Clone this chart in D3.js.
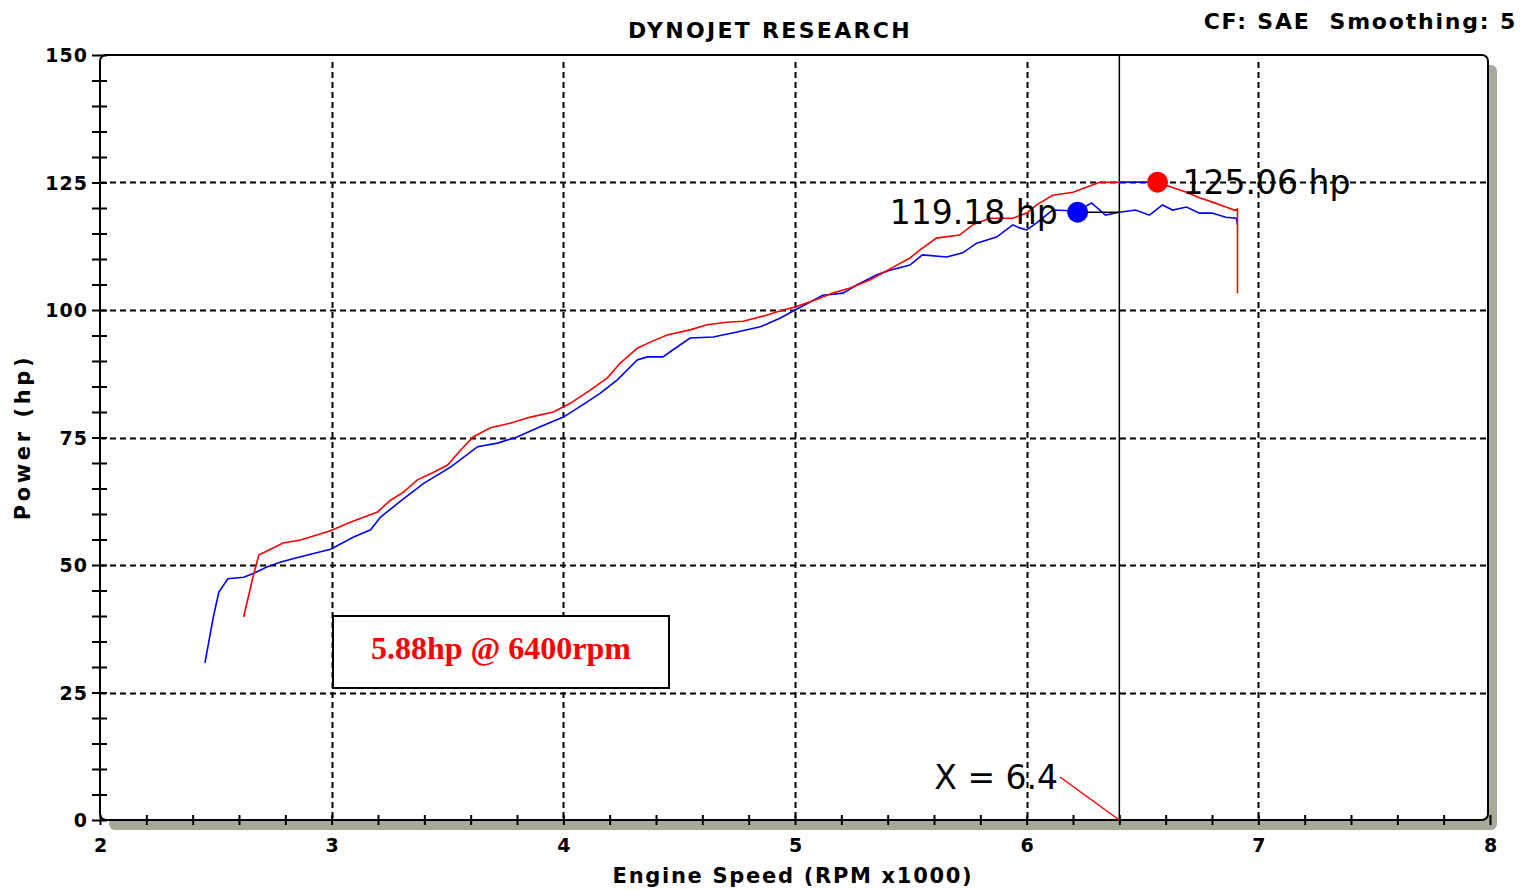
<!DOCTYPE html>
<html>
<head>
<meta charset="utf-8">
<script src="https://cdn.jsdelivr.net/npm/d3@7"></script>
<style>
  body { margin: 0; background: #fff; }
  svg text { font-family: "DejaVu Sans", sans-serif; }
</style>
</head>
<body>
<div id="chart"></div>
<script>
// dyno run values (rpm x1000, hp)
const blueRpm = [2.453, 2.49, 2.513, 2.552, 2.62, 2.664, 2.72, 2.78, 2.866, 2.995, 3.095, 3.168, 3.211, 3.30, 3.397, 3.513, 3.63, 3.716, 3.80, 3.90, 4.0, 4.08, 4.16, 4.233, 4.319, 4.362, 4.43, 4.474, 4.547, 4.647, 4.75, 4.85, 4.935, 5.0, 5.12, 5.207, 5.267, 5.353, 5.41, 5.496, 5.55, 5.655, 5.724, 5.784, 5.87, 5.94, 5.97, 6.0, 6.043, 6.112, 6.22, 6.28, 6.34, 6.4, 6.47, 6.53, 6.586, 6.63, 6.69, 6.746, 6.8, 6.86, 6.905, 6.91];
const blueHp = [30.8, 40.0, 44.7, 47.3, 47.6, 48.4, 49.6, 50.6, 51.6, 53.1, 55.5, 56.9, 59.4, 62.6, 66.0, 69.2, 73.2, 73.9, 75.1, 77.1, 79.0, 81.3, 83.7, 86.3, 90.2, 90.8, 90.8, 92.2, 94.5, 94.7, 95.7, 96.7, 98.4, 100.0, 102.9, 103.3, 104.9, 106.9, 107.8, 108.8, 110.8, 110.4, 111.2, 113.1, 114.3, 116.7, 116.1, 115.7, 117.1, 119.6, 119.4, 121.0, 118.6, 119.18, 119.6, 118.6, 120.6, 119.6, 120.2, 119.0, 119.0, 118.2, 118.0, 116.7];

const redRpm = [2.62, 2.66, 2.686, 2.71, 2.79, 2.866, 2.995, 3.08, 3.198, 3.254, 3.31, 3.37, 3.44, 3.5, 3.556, 3.61, 3.685, 3.77, 3.858, 3.957, 4.03, 4.116, 4.19, 4.246, 4.319, 4.375, 4.448, 4.547, 4.62, 4.707, 4.776, 4.88, 4.948, 5.0, 5.09, 5.16, 5.237, 5.323, 5.38, 5.44, 5.496, 5.54, 5.61, 5.71, 5.767, 5.84, 5.94, 6.0, 6.043, 6.112, 6.2, 6.315, 6.4, 6.565, 6.63, 6.69, 6.746, 6.8, 6.86, 6.897, 6.91, 6.91];
const redHp = [39.8, 47.6, 52.0, 52.5, 54.3, 54.9, 56.7, 58.4, 60.4, 62.7, 64.3, 66.7, 68.2, 69.6, 72.5, 75.1, 76.9, 77.8, 79.0, 80.0, 81.7, 84.3, 86.7, 89.6, 92.5, 93.7, 95.1, 96.1, 97.1, 97.6, 97.8, 99.0, 100.0, 100.6, 102.0, 103.3, 104.3, 105.9, 107.3, 108.8, 110.2, 111.8, 114.1, 114.7, 116.7, 118.0, 118.0, 119.0, 120.6, 122.5, 123.1, 125.06, 125.06, 125.06, 124.0, 123.1, 122.0, 121.2, 120.2, 119.6, 119.8, 103.3];

const xTicks = [2, 3, 4, 5, 6, 7, 8];
const yTicks = [0, 25, 50, 75, 100, 125, 150];
const cursorRpm = 6.4;
const redPeak = { rpm: 6.565, hp: 125.06, label: "125.06 hp" };
const bluePeak = { rpm: 6.22, hp: 119.18, label: "119.18 hp" };
const deltaText = "5.88hp @ 6400rpm";

const width = 1536,
  height = 890;
const plotLeft = 100,
  plotRight = 1490,
  plotTop = 55,
  plotBottom = 820;

const svg = d3
  .select("#chart")
  .append("svg")
  .attr("width", width)
  .attr("height", height);

const x = d3.scaleLinear().domain([2, 8]).range([plotLeft, plotRight]);
const y = d3.scaleLinear().domain([0, 150]).range([plotBottom, plotTop]);

// frame + drop shadow
const frameW = 1488 - plotLeft;
svg
  .append("rect")
  .attr("x", plotLeft + 9)
  .attr("y", plotTop + 10)
  .attr("width", frameW)
  .attr("height", plotBottom - plotTop)
  .attr("rx", 6)
  .style("fill", "#a9a99a");
svg
  .append("rect")
  .attr("x", plotLeft)
  .attr("y", plotTop)
  .attr("width", frameW)
  .attr("height", plotBottom - plotTop)
  .attr("rx", 6)
  .style("fill", "white")
  .style("stroke", "black")
  .style("stroke-width", 2);

// dashed grid
svg
  .append("g")
  .selectAll("line")
  .data(xTicks.slice(1, -1))
  .join("line")
  .attr("x1", (d) => Math.round(x(d)) + 0.5)
  .attr("x2", (d) => Math.round(x(d)) + 0.5)
  .attr("y1", plotTop + 7)
  .attr("y2", plotBottom)
  .style("stroke", "black")
  .style("stroke-width", 2)
  .style("stroke-dasharray", "6,4");
svg
  .append("g")
  .selectAll("line")
  .data(yTicks.slice(1, -1))
  .join("line")
  .attr("x1", plotLeft)
  .attr("x2", 1486)
  .attr("y1", (d) => Math.round(y(d)) + 0.5)
  .attr("y2", (d) => Math.round(y(d)) + 0.5)
  .style("stroke", "black")
  .style("stroke-width", 2)
  .style("stroke-dasharray", "6,4");

// axis ticks (crossing the frame)
const yTickAxis = d3
  .axisLeft(y)
  .tickValues(d3.range(0, 151, 5))
  .tickSize(15)
  .tickFormat("");
svg
  .append("g")
  .attr("transform", `translate(${plotLeft + 7},0)`)
  .call(yTickAxis)
  .call((g) => g.select(".domain").remove())
  .selectAll("line")
  .style("stroke-width", 2);

const xTickAxis = d3
  .axisBottom(x)
  .tickValues(d3.range(2, 8.01, 0.2))
  .tickSize(10)
  .tickFormat("");
svg
  .append("g")
  .attr("transform", `translate(0,${plotBottom - 5})`)
  .call(xTickAxis)
  .call((g) => g.select(".domain").remove())
  .selectAll("line")
  .style("stroke-width", 2);

// tick labels
svg
  .append("g")
  .attr("transform", `translate(${plotLeft - 12},0)`)
  .call(d3.axisLeft(y).tickValues(yTicks).tickSize(0).tickPadding(0))
  .call((g) => g.select(".domain").remove())
  .selectAll("text")
  .attr("dy", "0.36em")
  .style("font-family", "DejaVu Sans")
  .style("font-weight", "bold")
  .style("font-size", "19px")
  .style("letter-spacing", "1px")
  .style("fill", "black");

svg
  .append("g")
  .attr("transform", `translate(0,${plotBottom + 18})`)
  .call(
    d3
      .axisBottom(x)
      .tickValues(xTicks)
      .tickSize(0)
      .tickPadding(0)
      .tickFormat(d3.format("d"))
  )
  .call((g) => g.select(".domain").remove())
  .selectAll("text")
  .attr("dy", "0.72em")
  .style("font-family", "DejaVu Sans")
  .style("font-weight", "bold")
  .style("font-size", "19px")
  .style("fill", "black");

// cursor line at 6400 rpm
svg
  .append("line")
  .attr("x1", x(cursorRpm))
  .attr("x2", x(cursorRpm))
  .attr("y1", plotTop)
  .attr("y2", plotBottom)
  .style("stroke", "black")
  .style("stroke-width", 1.5);

// runs
const line = d3
  .line()
  .x((d) => x(d[0]))
  .y((d) => y(d[1]));

svg
  .append("path")
  .datum(d3.zip(blueRpm, blueHp))
  .attr("d", line)
  .style("fill", "none")
  .style("stroke", "#0000ff")
  .style("stroke-width", 1.6);

svg
  .append("path")
  .datum(d3.zip(redRpm, redHp))
  .attr("d", line)
  .style("fill", "none")
  .style("stroke", "#ff0000")
  .style("stroke-width", 1.6);

// value markers with leaders to the cursor
svg
  .append("line")
  .attr("x1", x(bluePeak.rpm))
  .attr("x2", x(cursorRpm))
  .attr("y1", y(bluePeak.hp))
  .attr("y2", y(bluePeak.hp))
  .style("stroke", "black")
  .style("stroke-width", 1.5);
svg
  .append("line")
  .attr("x1", x(cursorRpm))
  .attr("x2", x(redPeak.rpm))
  .attr("y1", y(redPeak.hp))
  .attr("y2", y(redPeak.hp))
  .style("stroke", "#0000ff")
  .style("stroke-width", 1.5);

svg
  .append("circle")
  .attr("cx", x(bluePeak.rpm))
  .attr("cy", y(bluePeak.hp))
  .attr("r", 10.5)
  .style("fill", "#0000ff");
svg
  .append("circle")
  .attr("cx", x(redPeak.rpm))
  .attr("cy", y(redPeak.hp))
  .attr("r", 10.5)
  .style("fill", "#ff0000");

svg
  .append("text")
  .attr("x", x(bluePeak.rpm) - 20)
  .attr("y", y(bluePeak.hp) + 12)
  .attr("text-anchor", "end")
  .style("font-size", "33px")
  .style("fill", "black")
  .text(bluePeak.label);
svg
  .append("text")
  .attr("x", x(redPeak.rpm) + 25)
  .attr("y", y(redPeak.hp) + 12)
  .style("font-size", "33px")
  .style("fill", "black")
  .text(redPeak.label);

// X = 6.4 readout
svg
  .append("line")
  .attr("x1", 1060)
  .attr("y1", 777)
  .attr("x2", x(cursorRpm))
  .attr("y2", plotBottom)
  .style("stroke", "#ff0000")
  .style("stroke-width", 1.5);
svg
  .append("text")
  .attr("x", 1058)
  .attr("y", 789)
  .attr("text-anchor", "end")
  .style("font-size", "33px")
  .style("fill", "black")
  .text(`X = ${cursorRpm}`);

// difference box
svg
  .append("rect")
  .attr("x", 333)
  .attr("y", 616)
  .attr("width", 336)
  .attr("height", 72)
  .style("fill", "white")
  .style("stroke", "black")
  .style("stroke-width", 2);
svg
  .append("text")
  .attr("x", 501)
  .attr("y", 659)
  .attr("text-anchor", "middle")
  .style("font-family", "Liberation Serif")
  .style("font-weight", "bold")
  .style("font-size", "32px")
  .style("fill", "#ff0000")
  .text(deltaText);

// titles
svg
  .append("text")
  .attr("x", 770)
  .attr("y", 38)
  .attr("text-anchor", "middle")
  .style("font-weight", "bold")
  .style("font-size", "22px")
  .style("letter-spacing", "2.3px")
  .text("DYNOJET RESEARCH");
svg
  .append("text")
  .attr("x", 1517)
  .attr("y", 29)
  .attr("text-anchor", "end")
  .style("font-weight", "bold")
  .style("font-size", "22px")
  .style("letter-spacing", "1.8px")
  .style("white-space", "pre")
  .text("CF: SAE  Smoothing: 5");

svg
  .append("text")
  .attr("x", 793)
  .attr("y", 883)
  .attr("text-anchor", "middle")
  .style("font-weight", "bold")
  .style("font-size", "21px")
  .style("letter-spacing", "1.7px")
  .text("Engine Speed (RPM x1000)");
svg
  .append("text")
  .attr("transform", "translate(30,437) rotate(-90)")
  .attr("text-anchor", "middle")
  .style("font-weight", "bold")
  .style("font-size", "21px")
  .style("letter-spacing", "3.6px")
  .text("Power (hp)");
</script>
</body>
</html>
